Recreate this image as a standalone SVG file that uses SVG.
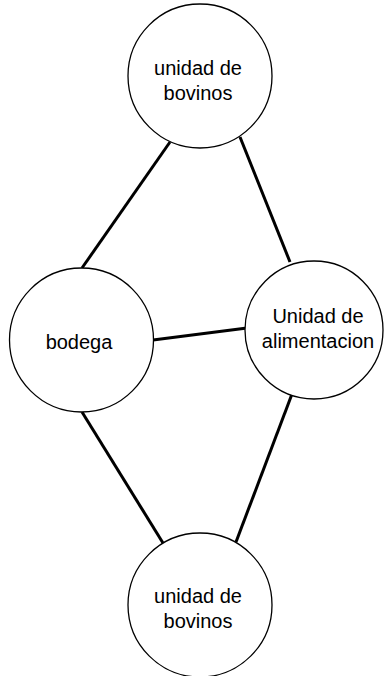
<svg xmlns="http://www.w3.org/2000/svg" width="385" height="676" viewBox="0 0 385 676">
<style>
.node{fill:#fff;stroke:#000;stroke-width:1.3}
.lbl{font-family:"Liberation Sans",Arial,sans-serif;font-size:20px;fill:#000;text-anchor:middle}
.edge{stroke:#000;stroke-width:3;fill:none}
</style>
<rect width="385" height="676" fill="#fff"/>
<g id="connectors">
<line class="edge" x1="170" y1="142" x2="82" y2="268"/>
<line class="edge" x1="240" y1="137" x2="290" y2="262"/>
<line class="edge" x1="153" y1="340" x2="247" y2="328"/>
<line class="edge" x1="82" y1="412" x2="163" y2="543"/>
<line class="edge" x1="292" y1="394" x2="236" y2="542"/>
</g>
<g id="top">
<circle class="node" cx="200" cy="76" r="72"/>
<text class="lbl" x="198" y="75">unidad de</text>
<text class="lbl" x="198" y="100">bovinos</text>
</g>
<g id="bodega">
<circle class="node" cx="81.5" cy="340" r="72"/>
<text class="lbl" x="79" y="349">bodega</text>
</g>
<g id="alimentacion">
<circle class="node" cx="314" cy="330" r="69"/>
<text class="lbl" x="318" y="323">Unidad de</text>
<text class="lbl" x="318" y="348">alimentacion</text>
</g>
<g id="bottom">
<circle class="node" cx="200" cy="605" r="72"/>
<text class="lbl" x="198" y="603">unidad de</text>
<text class="lbl" x="198" y="628">bovinos</text>
</g>
</svg>
